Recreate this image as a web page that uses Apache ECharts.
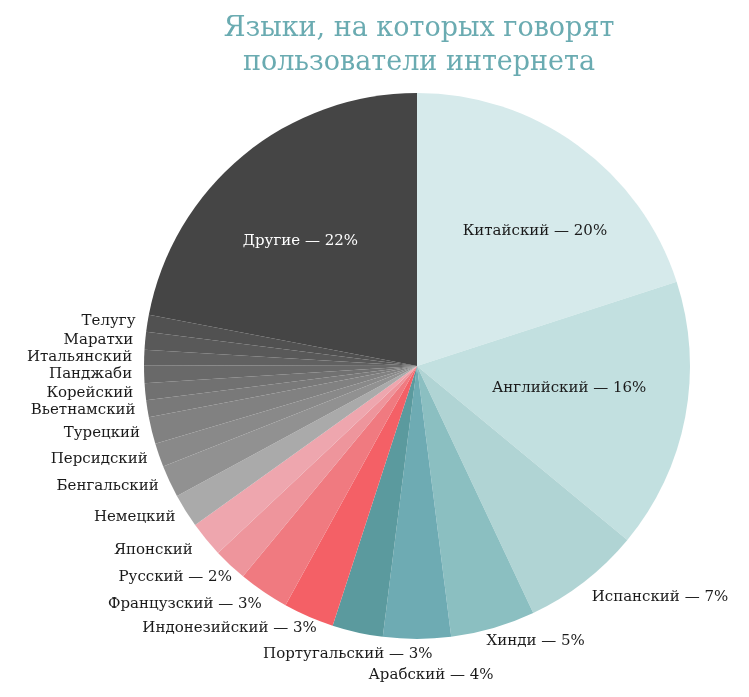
<!DOCTYPE html>
<html><head><meta charset="utf-8">
<script src="https://cdn.jsdelivr.net/npm/echarts@6/dist/echarts.min.js"></script>
<style>html,body{margin:0;padding:0;background:#fff}#c{width:749px;height:697px}</style>
</head><body><div id="c"></div>
<script>
// ---- data ----
const languages = ['Китайский','Английский','Испанский','Хинди','Арабский','Португальский','Индонезийский','Французский','Русский','Японский','Немецкий','Бенгальский','Персидский','Турецкий','Вьетнамский','Корейский','Панджаби','Итальянский','Маратхи','Телугу','Другие'];
const shares = [20,16,7,5,4,3,3,3,2,2.1,2.0,1.9,1.4,1.6,1.0,1.0,1.05,0.9,1.05,1.0,22];
const labelPercents = [20,16,7,5,4,3,3,3,2,null,null,null,null,null,null,null,null,null,null,null,22];
const titleLines = ['Языки, на которых говорят','пользователи интернета'];

// ---- style ----
const sliceColors = ['#d6eaeb','#c2e0e0','#b0d4d4','#8bbfc1','#6eabb3','#5b9a9e','#f46066','#f07a80','#ee959c','#eea6ae','#aaaaaa','#919191','#898989','#818181','#797979','#717171','#696969','#616161','#595959','#515151','#454545'];
const FONT = 'DejaVu Serif';
const CX = 417, CY = 366, R = 273, LABEL_R = 285;
const insideRatio = {'Китайский':0.66,'Английский':0.56,'Другие':0.63};
const tweaks = {
  'Китайский':{dx:12,dy:11},
  'Английский':{dx:2,dy:-7},
  'Другие':{dx:-7,dy:8},
  'Испанский':{dy:6},
  'Хинди':{dx:-10,dy:1},
  'Арабский':{align:'center',dx:14,dy:24},
  'Португальский':{align:'center',dx:-7,dy:10},
  'Индонезийский':{dx:13,dy:1},
  'Французский':{dx:5,dy:2},
  'Русский':{dx:10,dy:3},
  'Японский':{dx:-4,dy:3}
};
const total = shares.reduce((a,b)=>a+b,0);

const data = languages.map((name,i)=>({
  name, value: shares[i],
  itemStyle:{color: sliceColors[i]},
  label:{color: name==='Другие' ? '#ffffff' : '#1a1a1a'}
}));

const chart = echarts.init(document.getElementById('c'), null, {renderer:'canvas'});
chart.setOption({
  animation:false,
  backgroundColor:'#ffffff',
  title:{
    text: titleLines.join('\n'),
    left: 414, top: 7, textAlign:'center',
    textStyle:{fontFamily:FONT, fontSize:27, fontWeight:'normal', color:'#6aabb1', lineHeight:34}
  },
  series:[{
    type:'pie',
    center:[CX, CY],
    radius:[0, R],
    startAngle:90,
    clockwise:true,
    avoidLabelOverlap:false,
    emphasis:{disabled:true},
    itemStyle:{borderWidth:0},
    label:{
      show:true, position:'outside',
      fontFamily:FONT, fontSize:15,
      formatter:(p)=>{
        const v = labelPercents[p.dataIndex];
        return v==null ? p.name : p.name + ' — ' + v + '%';
      }
    },
    labelLine:{show:false},
    labelLayout:(params)=>{
      const i = params.dataIndex;
      let before = 0;
      for (let k=0;k<i;k++) before += shares[k];
      const mid = (before + shares[i]/2) / total * 2 * Math.PI;
      const sx = Math.sin(mid), sy = -Math.cos(mid);
      const name = languages[i];
      const t = tweaks[name] || {};
      if (insideRatio[name] != null) {
        const rr = insideRatio[name]*R;
        return {x: CX + rr*sx + (t.dx||0), y: CY + rr*sy + (t.dy||0), align:'center', verticalAlign:'middle'};
      }
      let align = sx > 0.05 ? 'left' : (sx < -0.05 ? 'right' : 'center');
      if (t.align) align = t.align;
      return {
        x: CX + LABEL_R*sx + (t.dx||0),
        y: CY + LABEL_R*sy + (t.dy||0),
        align, verticalAlign:'middle'
      };
    },
    data
  }]
});
</script>
</body></html>
